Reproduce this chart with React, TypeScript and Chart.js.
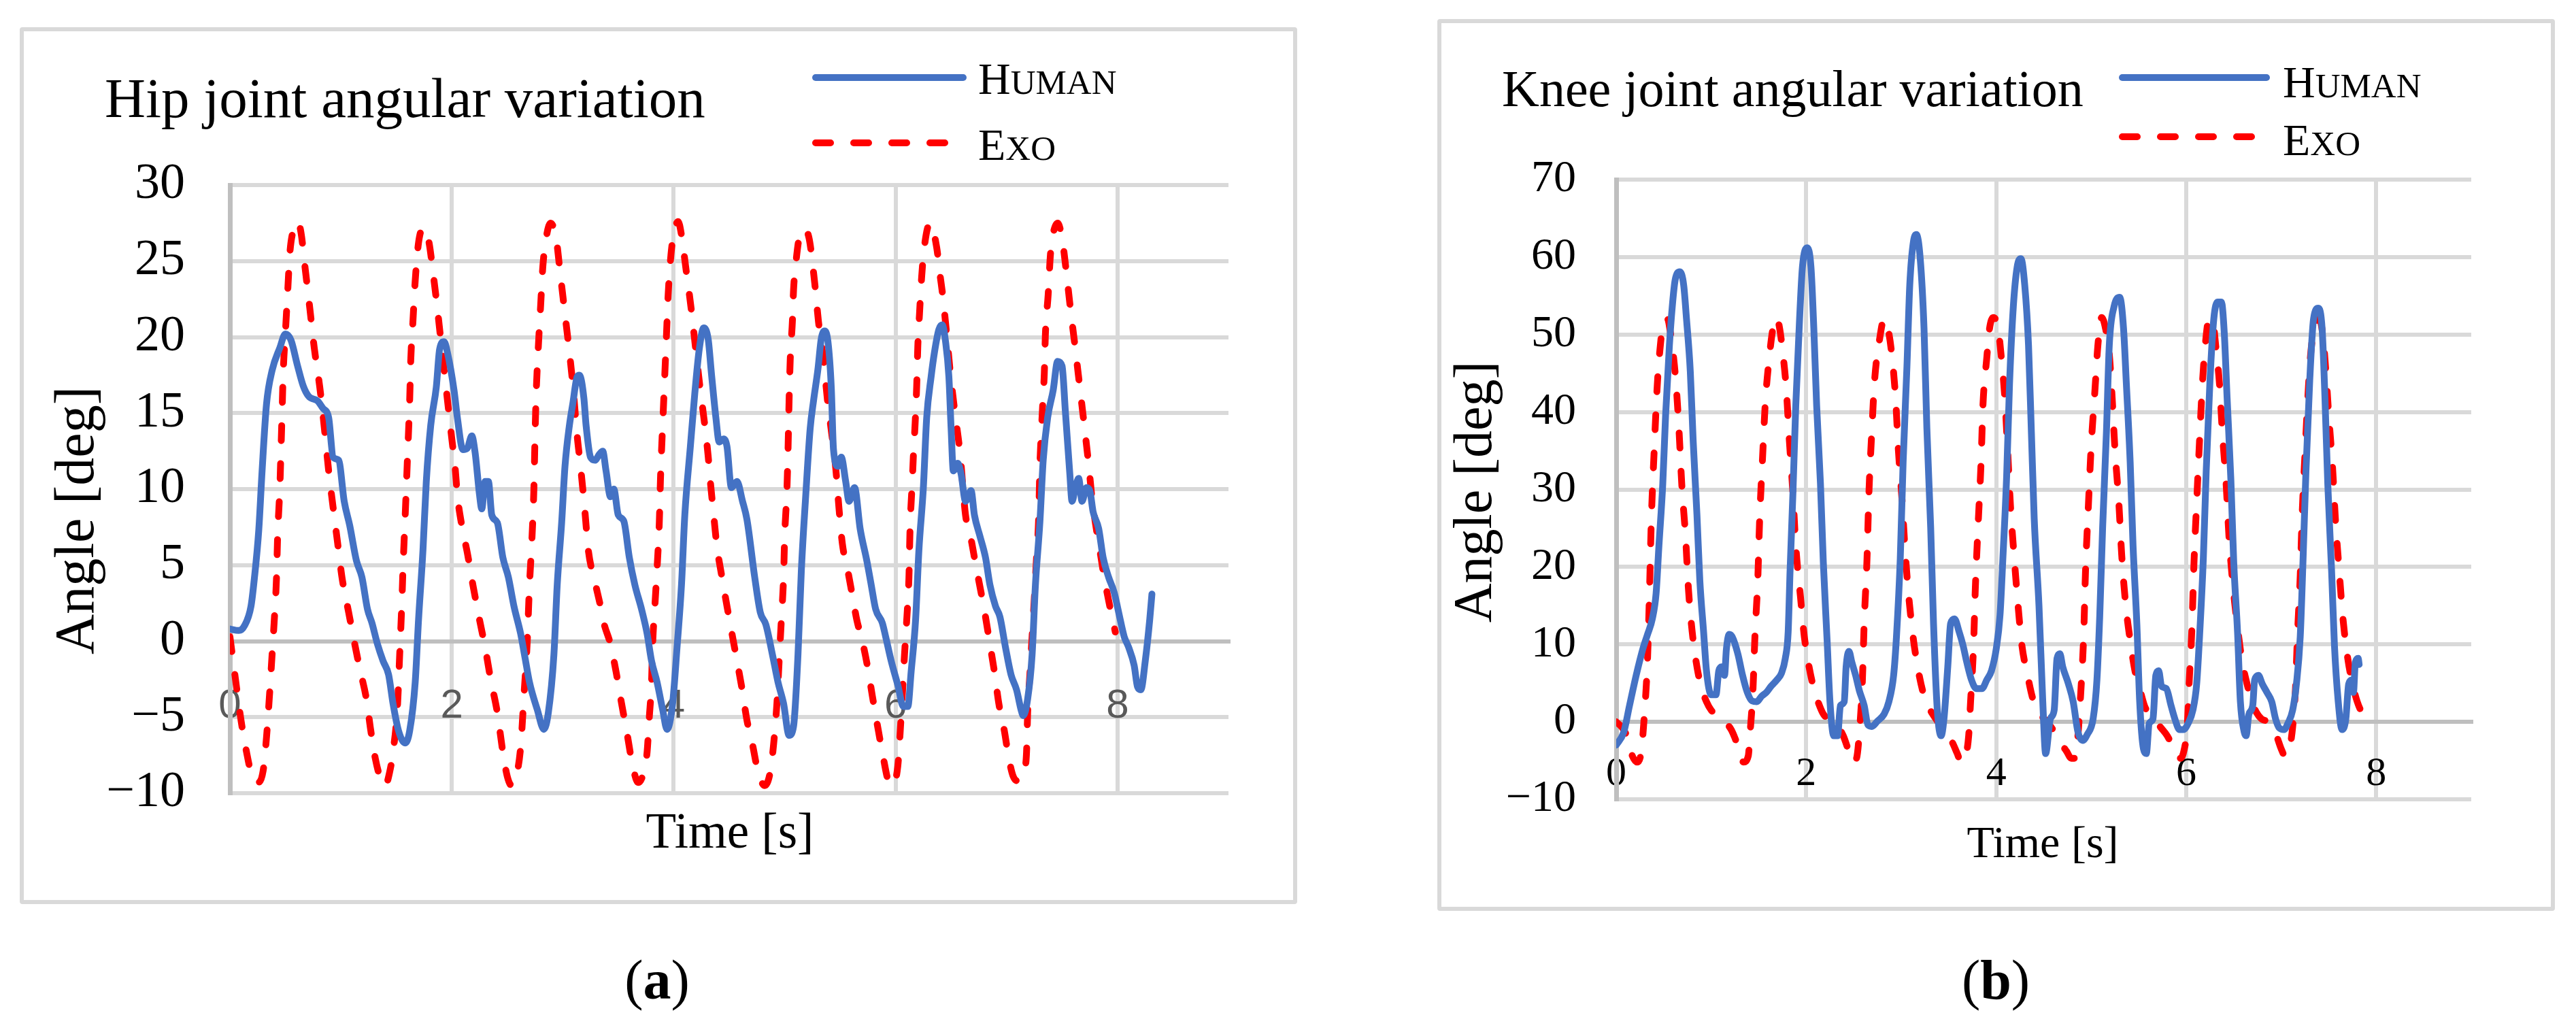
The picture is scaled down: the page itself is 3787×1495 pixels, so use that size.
import React, { useEffect, useRef } from 'react';
import { Chart, registerables } from 'chart.js';

Chart.register(...registerables);

// ---------------- Hip joint (a) ----------------
const hipHumanT = [
  0.00, 0.08, 0.13, 0.19, 0.22, 0.26, 0.29, 0.33, 0.38, 0.45, 0.50, 0.55, 0.61, 0.66, 0.71, 0.79, 0.84, 0.89, 0.93, 0.98,
  1.03, 1.08, 1.14, 1.19, 1.24, 1.28, 1.33, 1.38, 1.43, 1.47, 1.52, 1.58, 1.62, 1.67, 1.70, 1.74, 1.77, 1.81, 1.86, 1.89,
  1.93, 1.96, 2.02, 2.05, 2.10, 2.14, 2.18, 2.21, 2.25, 2.27, 2.30, 2.33, 2.36, 2.41, 2.46, 2.51, 2.56, 2.62, 2.66, 2.70,
  2.77, 2.83, 2.87, 2.92, 2.95, 2.99, 3.02, 3.06, 3.09, 3.13, 3.15, 3.19, 3.21, 3.25, 3.29, 3.33, 3.36, 3.39, 3.43, 3.46,
  3.50, 3.55, 3.60, 3.65, 3.71, 3.76, 3.80, 3.85, 3.90, 3.94, 3.99, 4.03, 4.07, 4.10, 4.15, 4.19, 4.23, 4.27, 4.31, 4.34,
  4.38, 4.41, 4.45, 4.48, 4.52, 4.57, 4.62, 4.66, 4.73, 4.78, 4.83, 4.89, 4.94, 4.99, 5.04, 5.08, 5.12, 5.15, 5.19, 5.23,
  5.26, 5.30, 5.33, 5.36, 5.39, 5.42, 5.44, 5.48, 5.51, 5.55, 5.58, 5.63, 5.68, 5.74, 5.78, 5.82, 5.88, 5.91, 5.96, 6.02,
  6.07, 6.11, 6.14, 6.18, 6.21, 6.25, 6.28, 6.32, 6.35, 6.39, 6.42, 6.45, 6.48, 6.50, 6.52, 6.56, 6.59, 6.63, 6.68, 6.71,
  6.76, 6.81, 6.85, 6.90, 6.94, 6.99, 7.04, 7.09, 7.13, 7.15, 7.19, 7.23, 7.26, 7.30, 7.33, 7.37, 7.42, 7.46, 7.50, 7.53,
  7.57, 7.59, 7.62, 7.65, 7.68, 7.72, 7.75, 7.78, 7.83, 7.87, 7.92, 7.97, 8.01, 8.06, 8.10, 8.15, 8.18, 8.21, 8.25, 8.29,
  8.31,
];
const hipHumanV = [
  0.8, 0.7, 1.0, 2.3, 4.1, 7.3, 11.2, 15.6, 17.8, 19.3, 20.2, 19.8, 18.1, 16.8, 16.1, 15.8, 15.3, 14.7, 12.1, 11.9,
  9.2, 7.6, 5.3, 4.2, 2.1, 1.2, -0.2, -1.3, -2.2, -4.1, -5.9, -6.7, -5.9, -2.7, 1.4, 6.0, 10.5, 14.2, 16.7, 19.2,
  19.7, 19.0, 16.5, 14.7, 12.6, 12.7, 13.5, 12.4, 9.6, 8.7, 10.5, 10.5, 8.3, 7.8, 5.5, 4.2, 2.3, 0.5, -1.1, -2.7,
  -4.5, -5.8, -4.7, -0.9, 3.7, 7.8, 11.5, 14.2, 15.6, 17.4, 17.5, 16.0, 14.2, 12.1, 11.9, 12.3, 12.5, 11.2, 9.5, 10.0,
  8.3, 7.9, 5.5, 3.7, 2.1, 0.5, -1.3, -2.7, -4.5, -5.8, -4.1, -0.4, 3.7, 8.3, 12.8, 16.3, 19.2, 20.6, 19.9, 17.6,
  14.7, 13.1, 13.3, 12.8, 10.1, 10.5, 9.2, 8.0, 4.2, 1.9, 1.1, -0.9, -2.7, -4.1, -6.2, -5.6, -0.9, 4.6, 9.6, 14.0,
  15.8, 17.9, 19.9, 20.4, 19.7, 16.7, 12.6, 11.5, 12.1, 10.5, 9.2, 10.1, 7.4, 5.3, 3.7, 2.1, 1.2, 0.3, -1.3, -2.9,
  -4.3, -4.3, -2.0, 1.4, 6.0, 10.1, 14.7, 17.4, 19.0, 20.5, 20.8, 19.7, 17.4, 14.0, 11.2, 11.7, 11.0, 9.2, 9.9, 8.3,
  6.9, 5.5, 3.7, 2.3, 1.6, -0.4, -2.2, -3.2, -4.5, -4.9, -3.8, -0.9, 3.7, 7.8, 11.9, 14.7, 16.5, 18.4, 18.1, 15.1,
  11.0, 9.2, 10.1, 10.7, 9.2, 10.1, 9.9, 8.5, 7.4, 5.5, 4.2, 3.2, 1.9, 0.3, -0.4, -1.6, -3.0, -3.2, -1.3, 1.4,
  3.1,
];
const hipExoT = [
  0.00, 0.05, 0.10, 0.15, 0.20, 0.25, 0.30, 0.33, 0.36, 0.38, 0.40, 0.42, 0.43, 0.45, 0.46, 0.47, 0.48, 0.50, 0.52, 0.54,
  0.57, 0.61, 0.64, 0.68, 0.72, 0.76, 0.81, 0.85, 0.89, 0.93, 0.97, 1.01, 1.07, 1.12, 1.17, 1.23, 1.27, 1.31, 1.36, 1.40,
  1.44, 1.47, 1.51, 1.53, 1.55, 1.56, 1.58, 1.60, 1.62, 1.63, 1.65, 1.67, 1.70, 1.745, 1.79, 1.84, 1.88, 1.92, 1.96, 2.00,
  2.03, 2.05, 2.09, 2.14, 2.19, 2.25, 2.30, 2.35, 2.41, 2.46, 2.50, 2.54, 2.58, 2.62, 2.65, 2.68, 2.70, 2.72, 2.74, 2.75,
  2.76, 2.78, 2.80, 2.82, 2.85, 2.89, 2.94, 2.98, 3.02, 3.06, 3.09, 3.13, 3.16, 3.20, 3.23, 3.29, 3.34, 3.37, 3.43, 3.48,
  3.53, 3.58, 3.63, 3.68, 3.73, 3.76, 3.78, 3.80, 3.81, 3.83, 3.85, 3.87, 3.88, 3.89, 3.905, 3.92, 3.935, 3.95, 3.975, 4.00,
  4.04, 4.07, 4.11, 4.155, 4.195, 4.235, 4.28, 4.31, 4.33, 4.36, 4.39, 4.43, 4.48, 4.52, 4.56, 4.61, 4.66, 4.71, 4.76, 4.82,
  4.87, 4.90, 4.93, 4.95, 4.97, 4.99, 5.00, 5.02, 5.03, 5.04, 5.05, 5.07, 5.08, 5.10, 5.13, 5.17, 5.22, 5.27, 5.305, 5.35,
  5.385, 5.43, 5.46, 5.49, 5.52, 5.57, 5.61, 5.65, 5.70, 5.75, 5.79, 5.84, 5.89, 5.93, 5.97, 6.02, 6.04, 6.06, 6.08, 6.10,
  6.12, 6.13, 6.15, 6.16, 6.175, 6.19, 6.20, 6.215, 6.235, 6.26, 6.31, 6.37, 6.40, 6.425, 6.46, 6.495, 6.535, 6.58, 6.63, 6.68,
  6.72, 6.77, 6.81, 6.85, 6.89, 6.93, 6.98, 7.02, 7.06, 7.11, 7.16, 7.18, 7.19, 7.21, 7.23, 7.25, 7.27, 7.29, 7.30, 7.315,
  7.33, 7.34, 7.35, 7.375, 7.395, 7.42, 7.46, 7.50, 7.535, 7.575, 7.62, 7.66, 7.70, 7.74, 7.77, 7.80, 7.84, 7.88, 7.93, 7.98,
];
const hipExoV = [
  0.3, -2.5, -5.2, -7.3, -8.9, -9.3, -8.5, -6.3, -3.2, -0.9, 1.4, 4.2, 6.9, 10.1, 12.5, 15.0, 17.6, 20.3, 22.9, 25.5,
  27.0, 27.6, 26.9, 24.4, 21.9, 19.3, 16.7, 14.1, 11.2, 8.8, 6.5, 4.2, 1.9, 0.0, -1.8, -3.8, -5.9, -7.7, -9.1, -9.5,
  -8.6, -7.3, -4.3, -0.9, 2.6, 4.8, 8.3, 12.0, 15.8, 18.5, 21.1, 23.7, 26.2, 27.2, 26.4, 23.7, 21.2, 18.5, 15.9, 13.3,
  11.4, 9.6, 7.6, 5.8, 3.7, 1.4, -0.4, -2.5, -4.7, -7.3, -8.9, -9.5, -8.9, -7.0, -3.6, 0.0, 3.7, 6.4, 10.1, 13.5,
  16.2, 19.4, 22.0, 24.6, 26.5, 27.5, 26.5, 24.0, 21.5, 19.0, 16.9, 13.5, 11.5, 8.5, 6.0, 3.9, 2.3, 1.2, -0.2, -2.0,
  -4.1, -6.1, -8.2, -9.3, -8.6, -7.3, -5.0, -2.7, -0.2, 2.3, 4.8, 7.8, 10.5, 12.5, 15.0, 17.6, 20.2, 22.8, 25.4, 26.8,
  27.6, 26.7, 24.5, 22.0, 19.4, 16.8, 14.2, 12.2, 10.5, 8.3, 6.2, 4.4, 2.3, 0.7, -0.9, -2.9, -5.2, -6.8, -8.6, -9.5,
  -8.6, -6.8, -4.1, -1.3, 1.4, 4.2, 6.9, 9.9, 12.5, 15.9, 18.5, 21.1, 23.1, 24.8, 26.5, 27.1, 26.5, 23.6, 21.0, 18.5,
  15.9, 13.3, 11.4, 8.7, 6.4, 4.6, 3.0, 1.4, 0.0, -1.8, -3.6, -5.7, -7.7, -9.1, -9.5, -8.2, -6.1, -3.6, -0.9, 1.4,
  4.2, 7.4, 10.5, 12.2, 14.2, 16.8, 19.4, 21.5, 24.0, 26.0, 27.5, 25.9, 24.1, 22.7, 20.2, 17.5, 15.0, 12.4, 8.3, 6.7,
  5.1, 3.2, 1.6, -0.2, -2.0, -4.1, -5.9, -7.7, -8.9, -9.2, -8.5, -7.3, -4.7, -2.2, 0.3, 2.8, 5.5, 8.3, 11.5, 14.0,
  16.2, 17.6, 20.2, 22.8, 25.4, 26.8, 27.5, 26.5, 24.5, 21.9, 19.2, 16.7, 14.2, 11.6, 9.4, 7.8, 6.0, 4.2, 2.3, 0.6,
];
const hipYTicks = [-10, -5, 0, 5, 10, 15, 20, 25, 30];
const hipXTicks = [0, 2, 4, 6, 8];

// ---------------- Knee joint (b) ----------------
const kneeHumanT = [
  0.00, 0.08, 0.14, 0.21, 0.28, 0.33, 0.38, 0.42, 0.45, 0.49, 0.52, 0.56, 0.59, 0.62, 0.67, 0.71, 0.74, 0.78, 0.81, 0.85,
  0.88, 0.92, 0.95, 1.00, 1.05, 1.08, 1.11, 1.14, 1.16, 1.19, 1.22, 1.28, 1.33, 1.38, 1.43, 1.48, 1.53, 1.58, 1.63, 1.69,
  1.74, 1.78, 1.81, 1.83, 1.86, 1.89, 1.93, 1.96, 2.01, 2.05, 2.08, 2.11, 2.15, 2.18, 2.22, 2.25, 2.29, 2.33, 2.36, 2.40,
  2.42, 2.45, 2.48, 2.52, 2.56, 2.61, 2.65, 2.69, 2.75, 2.82, 2.87, 2.92, 2.95, 2.99, 3.02, 3.06, 3.09, 3.13, 3.16, 3.20,
  3.24, 3.27, 3.31, 3.34, 3.38, 3.42, 3.45, 3.49, 3.52, 3.56, 3.61, 3.65, 3.69, 3.74, 3.79, 3.85, 3.90, 3.95, 4.00, 4.04,
  4.07, 4.11, 4.14, 4.18, 4.22, 4.26, 4.30, 4.34, 4.37, 4.40, 4.45, 4.49, 4.52, 4.57, 4.61, 4.64, 4.67, 4.70, 4.76, 4.81,
  4.86, 4.91, 4.96, 5.02, 5.06, 5.09, 5.12, 5.16, 5.19, 5.24, 5.30, 5.34, 5.37, 5.41, 5.44, 5.48, 5.51, 5.55, 5.58, 5.61,
  5.65, 5.68, 5.71, 5.74, 5.79, 5.84, 5.88, 5.93, 5.97, 6.02, 6.07, 6.11, 6.14, 6.18, 6.21, 6.25, 6.29, 6.33, 6.37, 6.40,
  6.43, 6.47, 6.50, 6.54, 6.57, 6.61, 6.63, 6.66, 6.70, 6.72, 6.76, 6.80, 6.85, 6.90, 6.94, 6.98, 7.03, 7.07, 7.12, 7.16,
  7.20, 7.23, 7.26, 7.30, 7.34, 7.39, 7.43, 7.46, 7.49, 7.53, 7.56, 7.60, 7.64, 7.68, 7.71, 7.74, 7.76, 7.78, 7.81, 7.82,
];
const kneeHumanV = [
  -3.0, -1.3, 2.1, 6.0, 9.4, 11.3, 13.3, 16.6, 22.8, 30.7, 39.6, 48.6, 53.6, 57.0, 58.1, 56.4, 52.0, 45.2, 36.3, 26.7,
  18.3, 11.6, 6.6, 3.5, 3.5, 6.6, 7.1, 6.0, 9.4, 11.3, 11.0, 8.8, 6.0, 3.8, 2.7, 2.6, 3.3, 3.8, 4.6, 5.4,
  6.3, 8.2, 11.6, 19.5, 29.5, 40.8, 52.0, 58.7, 61.2, 58.7, 50.8, 40.8, 30.7, 20.6, 10.5, 2.6, -1.8, -1.8, 2.1, 2.6,
  7.1, 9.1, 7.7, 6.0, 4.0, 2.1, -0.4, -0.6, 0.1, 1.0, 2.6, 6.0, 11.0, 21.1, 33.5, 45.8, 56.4, 62.1, 62.9, 59.8,
  50.8, 37.9, 25.1, 12.7, 1.5, -1.8, 0.4, 7.1, 12.7, 13.3, 11.6, 9.9, 7.7, 5.4, 4.3, 4.3, 5.4, 6.6, 9.4, 13.8,
  21.1, 31.8, 43.6, 53.6, 58.7, 59.8, 56.4, 48.6, 37.4, 26.2, 15.0, 2.6, -4.1, 0.4, 1.5, 8.2, 8.8, 7.1, 4.9, 2.6,
  -1.3, -2.4, -1.6, 0.4, 5.4, 13.8, 25.1, 37.4, 48.6, 53.6, 54.8, 50.8, 43.6, 33.5, 22.8, 12.7, 2.6, -3.5, -4.1, -0.2,
  0.4, 6.0, 6.6, 4.6, 4.3, 2.1, 0.4, -1.0, -1.0, -0.2, 1.5, 4.9, 11.0, 21.1, 32.3, 44.1, 52.0, 54.2, 54.2, 50.3,
  41.9, 31.2, 20.6, 11.6, 2.6, -1.3, -1.8, 1.0, 2.1, 5.4, 6.0, 4.9, 3.8, 2.6, 0.4, -0.8, -1.0, -0.2, 1.5, 4.9,
  11.0, 21.1, 32.3, 44.1, 52.0, 53.4, 50.8, 41.9, 30.7, 19.5, 9.9, 2.6, -1.0, 0.4, 4.9, 5.4, 3.8, 7.7, 8.2, 7.4,
];
const kneeExoT = [
  0.00, 0.06, 0.11, 0.16, 0.22, 0.26, 0.30, 0.33, 0.35, 0.37, 0.40, 0.43, 0.46, 0.50, 0.54, 0.57, 0.60, 0.63, 0.66, 0.69,
  0.73, 0.76, 0.80, 0.85, 0.90, 0.95, 1.00, 1.05, 1.10, 1.16, 1.21, 1.25, 1.29, 1.34, 1.39, 1.41, 1.44, 1.46, 1.49, 1.51,
  1.54, 1.57, 1.61, 1.65, 1.69, 1.72, 1.75, 1.79, 1.82, 1.86, 1.89, 1.94, 1.98, 2.03, 2.08, 2.13, 2.18, 2.23, 2.29, 2.34,
  2.39, 2.44, 2.49, 2.53, 2.56, 2.59, 2.61, 2.64, 2.66, 2.69, 2.72, 2.77, 2.82, 2.86, 2.90, 2.94, 2.97, 3.01, 3.04, 3.08,
  3.13, 3.18, 3.23, 3.28, 3.33, 3.38, 3.43, 3.49, 3.54, 3.59, 3.63, 3.67, 3.71, 3.73, 3.76, 3.78, 3.81, 3.84, 3.86, 3.90,
  3.93, 3.97, 4.02, 4.05, 4.09, 4.12, 4.15, 4.19, 4.23, 4.27, 4.33, 4.38, 4.43, 4.48, 4.53, 4.58, 4.63, 4.68, 4.74, 4.79,
  4.83, 4.86, 4.89, 4.92, 4.94, 4.97, 5.00, 5.04, 5.07, 5.11, 5.15, 5.19, 5.22, 5.25, 5.29, 5.32, 5.36, 5.41, 5.46, 5.51,
  5.56, 5.61, 5.66, 5.73, 5.80, 5.85, 5.90, 5.94, 5.98, 6.01, 6.03, 6.06, 6.08, 6.11, 6.14, 6.17, 6.20, 6.24, 6.28, 6.31,
  6.35, 6.38, 6.42, 6.45, 6.49, 6.54, 6.59, 6.64, 6.69, 6.74, 6.79, 6.84, 6.90, 6.95, 7.00, 7.04, 7.08, 7.12, 7.15, 7.17,
  7.20, 7.22, 7.25, 7.28, 7.31, 7.36, 7.40, 7.44, 7.47, 7.50, 7.54, 7.57, 7.61, 7.65, 7.70, 7.75, 7.80, 7.85, 7.90, 7.96,
  8.01,
];
const kneeExoV = [
  0.0, -0.7, -1.8, -4.1, -5.2, -4.1, 1.5, 8.2, 16.6, 26.2, 35.1, 43.0, 48.0, 51.7, 52.0, 50.3, 47.5, 43.6, 37.9, 30.7,
  23.9, 17.2, 11.6, 7.1, 4.3, 2.6, 1.5, 1.0, 0.4, -0.2, -1.0, -2.1, -3.5, -5.2, -4.4, -1.3, 4.3, 11.0, 18.3, 26.2,
  34.0, 41.3, 46.9, 50.8, 52.2, 50.8, 48.0, 43.0, 36.8, 29.5, 22.8, 16.1, 11.0, 7.1, 4.3, 2.4, 1.0, 0.4, -0.2, -0.7,
  -1.8, -3.5, -5.2, -4.7, -1.3, 4.9, 12.7, 21.1, 29.5, 37.4, 44.1, 49.2, 52.0, 50.8, 47.5, 41.9, 35.1, 28.4, 22.3, 16.1,
  10.5, 6.6, 3.8, 2.1, 1.0, 0.1, -0.7, -1.6, -2.7, -4.1, -5.2, -4.7, -1.8, 2.6, 9.4, 17.2, 25.6, 33.4, 40.8, 46.9,
  50.8, 52.2, 50.8, 47.5, 41.9, 35.1, 27.9, 21.1, 15.0, 9.9, 6.0, 3.2, 1.5, 0.7, 0.1, -0.7, -1.6, -2.7, -3.8, -4.7,
  -4.7, -1.8, 3.8, 11.0, 19.5, 27.9, 35.7, 43.0, 48.6, 52.2, 50.8, 47.5, 41.9, 35.1, 28.4, 21.7, 15.5, 10.5, 6.6, 4.3,
  2.1, 1.0, 0.4, -0.7, -1.8, -3.0, -4.4, -4.7, -3.5, -0.7, 4.9, 12.2, 20.0, 28.4, 36.3, 43.6, 48.6, 52.0, 51.7, 48.6,
  43.6, 37.4, 30.7, 23.9, 17.8, 12.2, 7.7, 4.9, 2.6, 1.2, 0.4, 0.1, -0.7, -1.8, -3.5, -4.4, -3.8, -0.7, 4.3, 11.0,
  18.9, 26.7, 34.6, 41.9, 47.5, 51.4, 52.0, 49.7, 45.2, 39.6, 32.9, 26.2, 19.5, 13.3, 8.2, 4.9, 2.6, 1.2, 0.5, 0.1,
  0.0,
];
const kneeYTicks = [-10, 0, 10, 20, 30, 40, 50, 60, 70];
const kneeXTicks = [0, 2, 4, 6, 8];

const BLUE = '#4472C4';
const RED = '#FF0000';
const GRID = '#D9D9D9';
const AXIS = '#BFBFBF';
const SERIF = '"Liberation Serif", "Times New Roman", serif';
const SANS = '"Liberation Sans", Arial, sans-serif';

type Spec = {
  box: { x: number; y: number; w: number; h: number };
  humanT: number[]; humanV: number[]; exoT: number[]; exoV: number[];
  yTicks: number[]; xTicks: number[];
  yMin: number; yMax: number; xMax: number;
  area: { left: number; top: number; right: number; bottom: number };
  yTickSize: number; yTickPad: number;
  xTickSize: number; xTickPad: number; xTickFamily: string; xTickColor: string;
  title: string; titleSize: number; titleX: number; titleY: number;
  legLine0: number; legLine1: number; legTextX: number; legSize: number;
  humanLineY: number; humanBase: number; exoLineY: number; exoBase: number;
  yTitle: string; yTitleSize: number; yTitleX: number; yTitleY: number;
  xTitle: string; xTitleSize: number; xTitleX: number; xTitleY: number;
};

function drawSmallCaps(ctx: CanvasRenderingContext2D, word: string, x: number, y: number, size: number) {
  const first = word.charAt(0).toUpperCase();
  const rest = word.slice(1).toUpperCase();
  ctx.font = `${size}px ${SERIF}`;
  ctx.fillText(first, x, y);
  const w = ctx.measureText(first).width;
  ctx.font = `${Math.round(size * 0.78)}px ${SERIF}`;
  ctx.fillText(rest, x + w, y);
}

function makeTextPlugin(s: Spec) {
  return {
    id: 'panelText',
    afterDraw(chart: any) {
      const ctx: CanvasRenderingContext2D = chart.ctx;
      ctx.save();
      ctx.fillStyle = '#000';
      ctx.textAlign = 'left';
      ctx.textBaseline = 'alphabetic';
      // Title
      ctx.font = `${s.titleSize}px ${SERIF}`;
      ctx.fillText(s.title, s.titleX, s.titleY);
      // Legend
      const ds = chart.data.datasets;
      const rows = [
        { d: ds[0], ly: s.humanLineY, by: s.humanBase },
        { d: ds[1], ly: s.exoLineY, by: s.exoBase },
      ];
      rows.forEach((r) => {
        ctx.save();
        ctx.strokeStyle = r.d.borderColor;
        ctx.lineWidth = r.d.borderWidth;
        ctx.lineCap = 'round';
        ctx.setLineDash(r.d.borderDash || []);
        ctx.beginPath();
        ctx.moveTo(s.legLine0, r.ly);
        ctx.lineTo(s.legLine1, r.ly);
        ctx.stroke();
        ctx.restore();
        drawSmallCaps(ctx, r.d.label, s.legTextX, r.by, s.legSize);
      });
      // Y title
      ctx.save();
      ctx.translate(s.yTitleX, s.yTitleY);
      ctx.rotate(-Math.PI / 2);
      ctx.textAlign = 'center';
      ctx.textBaseline = 'middle';
      ctx.font = `${s.yTitleSize}px ${SERIF}`;
      ctx.fillText(s.yTitle, 0, 0);
      ctx.restore();
      // X title
      ctx.textAlign = 'center';
      ctx.textBaseline = 'middle';
      ctx.font = `${s.xTitleSize}px ${SERIF}`;
      ctx.fillText(s.xTitle, s.xTitleX, s.xTitleY);
      ctx.restore();
    },
  };
}

function buildChart(canvas: HTMLCanvasElement, s: Spec, cw: number, ch: number) {
  const humanData = s.humanT.map((t, i) => ({ x: t, y: s.humanV[i] }));
  const exoData = s.exoT.map((t, i) => ({ x: t, y: s.exoV[i] }));
  const gridColor = (c: any) => (c.tick && c.tick.value === 0 ? AXIS : GRID);
  return new Chart(canvas, {
    type: 'line',
    data: {
      datasets: [
        {
          label: 'Human', data: humanData, borderColor: BLUE, borderWidth: 10, pointRadius: 0,
          cubicInterpolationMode: 'monotone', borderCapStyle: 'round', borderJoinStyle: 'round', fill: false,
        },
        {
          label: 'Exo', data: exoData, borderColor: RED, borderWidth: 10, pointRadius: 0, borderDash: [22, 34],
          cubicInterpolationMode: 'monotone', borderCapStyle: 'round', borderJoinStyle: 'round', fill: false,
        },
      ],
    } as any,
    options: {
      animation: false,
      responsive: false,
      devicePixelRatio: 1,
      layout: {
        padding: { left: 0, top: s.area.top, right: cw - s.area.right, bottom: ch - s.area.bottom },
      },
      plugins: { legend: { display: false }, tooltip: { enabled: false }, title: { display: false } },
      scales: {
        x: {
          type: 'linear',
          position: { y: 0 } as any,
          min: 0,
          max: s.xMax,
          afterBuildTicks: (sc: any) => { sc.ticks = s.xTicks.map((v) => ({ value: v })); },
          ticks: {
            autoSkip: false, maxRotation: 0, minRotation: 0, padding: s.xTickPad, color: s.xTickColor,
            font: { family: s.xTickFamily, size: s.xTickSize, lineHeight: 1.2 },
          },
          grid: { color: gridColor, lineWidth: 6, drawTicks: false },
          border: { display: true, color: AXIS, width: 6 },
        },
        y: {
          type: 'linear',
          position: 'left',
          min: s.yMin,
          max: s.yMax,
          afterBuildTicks: (sc: any) => { sc.ticks = s.yTicks.map((v) => ({ value: v })); },
          afterFit: (sc: any) => { sc.width = s.area.left; },
          ticks: {
            padding: s.yTickPad, color: '#000',
            font: { family: SERIF, size: s.yTickSize, lineHeight: 1.2 },
            callback: (v: any) => String(v).replace('-', '\u2212'),
          },
          grid: { color: gridColor, lineWidth: 6, drawTicks: false },
          border: { display: true, color: AXIS, width: 7 },
        },
      },
    } as any,
    plugins: [makeTextPlugin(s) as any],
  });
}

function Panel({ spec }: { spec: Spec }) {
  const ref = useRef<HTMLCanvasElement>(null);
  const cw = spec.box.w - 12;
  const ch = spec.box.h - 12;
  useEffect(() => {
    const chart = buildChart(ref.current as HTMLCanvasElement, spec, cw, ch);
    return () => chart.destroy();
  }, []);
  return (
    <div
      style={{
        position: 'absolute', left: spec.box.x, top: spec.box.y, width: spec.box.w, height: spec.box.h,
        border: `6px solid ${GRID}`, borderRadius: 4, boxSizing: 'border-box', background: '#fff',
      }}
    >
      <canvas ref={ref} width={cw} height={ch} style={{ display: 'block', width: cw, height: ch }} />
    </div>
  );
}

const hipSpec: Spec = {
  box: { x: 29, y: 40, w: 1878, h: 1289 },
  humanT: hipHumanT, humanV: hipHumanV, exoT: hipExoT, exoV: hipExoV,
  yTicks: hipYTicks, xTicks: hipXTicks, yMin: -10, yMax: 30, xMax: 9,
  area: { left: 303, top: 226, right: 1771, bottom: 1120 },
  yTickSize: 74, yTickPad: 66,
  xTickSize: 60, xTickPad: 60, xTickFamily: SANS, xTickColor: '#595959',
  title: 'Hip joint angular variation', titleSize: 83, titleX: 119, titleY: 126,
  legLine0: 1164, legLine1: 1381, legTextX: 1403, legSize: 66,
  humanLineY: 68, humanBase: 92, exoLineY: 164, exoBase: 189,
  yTitle: 'Angle [deg]', yTitleSize: 82, yTitleX: 80, yTitleY: 719,
  xTitle: 'Time [s]', xTitleSize: 73, xTitleX: 1038, xTitleY: 1181,
};

const kneeSpec: Spec = {
  box: { x: 2113, y: 28, w: 1643, h: 1311 },
  humanT: kneeHumanT, humanV: kneeHumanV, exoT: kneeExoT, exoV: kneeExoV,
  yTicks: kneeYTicks, xTicks: kneeXTicks, yMin: -10, yMax: 70, xMax: 9,
  area: { left: 257, top: 230, right: 1514, bottom: 1141 },
  yTickSize: 66, yTickPad: 59,
  xTickSize: 60, xTickPad: 41, xTickFamily: SERIF, xTickColor: '#000',
  title: 'Knee joint angular variation', titleSize: 76, titleX: 89, titleY: 122,
  legLine0: 1001, legLine1: 1213, legTextX: 1237, legSize: 66,
  humanLineY: 80, humanBase: 109, exoLineY: 167, exoBase: 194,
  yTitle: 'Angle [deg]', yTitleSize: 80, yTitleX: 52, yTitleY: 689,
  xTitle: 'Time [s]', xTitleSize: 66, xTitleX: 884, xTitleY: 1209,
};

function SubLabel({ cx, letter }: { cx: number; letter: string }) {
  return (
    <div
      style={{
        position: 'absolute', left: cx - 100, top: 1400, width: 200, textAlign: 'center',
        fontFamily: SERIF, fontSize: 82, lineHeight: '82px', color: '#000',
      }}
    >
      (<b>{letter}</b>)
    </div>
  );
}

export default function App() {
  return (
    <div style={{ position: 'absolute', left: 0, top: 0, width: 3787, height: 1495, background: '#fff', overflow: 'hidden' }}>
      <Panel spec={hipSpec} />
      <Panel spec={kneeSpec} />
      <SubLabel cx={966} letter="a" />
      <SubLabel cx={2934} letter="b" />
    </div>
  );
}
